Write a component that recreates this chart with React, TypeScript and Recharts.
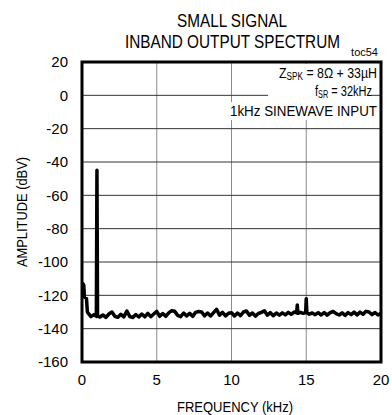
import React from "react";
import {
  LineChart,
  Line,
  XAxis,
  YAxis,
  CartesianGrid,
  ReferenceArea,
} from "recharts";

// spectrum trace
const FREQ_KHZ = [
  0, 0.06, 0.12, 0.16, 0.3, 0.36, 0.44, 0.6, 0.8, 0.96, 1.0, 1.04, 1.2, 1.4,
  1.6, 1.8, 2.0, 2.2, 2.4, 2.6, 2.8, 3.0, 3.2, 3.4, 3.6, 3.8, 4.0, 4.2, 4.4,
  4.6, 4.8, 5.0, 5.2, 5.4, 5.6, 5.8, 6.0, 6.2, 6.4, 6.6, 6.8, 7.0, 7.2, 7.4,
  7.6, 7.8, 8.0, 8.2, 8.4, 8.6, 8.8, 9.0, 9.2, 9.4, 9.6, 9.8, 10.0, 10.2,
  10.4, 10.6, 10.8, 11.0, 11.2, 11.4, 11.6, 11.8, 12.0, 12.2, 12.4, 12.6,
  12.8, 13.0, 13.2, 13.4, 13.6, 13.8, 14.0, 14.2, 14.36, 14.4, 14.44, 14.6,
  14.8, 14.96, 15.0, 15.04, 15.2, 15.4, 15.6, 15.8, 16.0, 16.2, 16.4, 16.6,
  16.8, 17.0, 17.2, 17.4, 17.6, 17.8, 18.0, 18.2, 18.4, 18.6, 18.8, 19.0,
  19.2, 19.4, 19.6, 19.8, 20.0,
];

const AMPLITUDE_DBV = [
  -118, -113, -114, -121, -122, -130, -131.0, -132.8, -131.6, -132.6, -45,
  -132.5, -133.0, -131.8, -133.2, -131.2, -130.0, -132.6, -133.2, -131.4,
  -132.9, -129.4, -132.8, -133.3, -131.5, -133.0, -131.2, -132.9, -130.8,
  -132.8, -131.2, -129.6, -132.6, -130.9, -132.6, -130.5, -129.2, -129.6,
  -132.0, -132.8, -130.6, -132.4, -130.8, -132.6, -130.2, -129.7, -130.0,
  -132.3, -130.6, -132.4, -130.4, -128.4, -131.9, -130.2, -132.3, -130.8,
  -130.4, -132.4, -130.6, -132.2, -130.0, -129.4, -132.0, -130.6, -132.5,
  -130.9, -130.2, -129.3, -131.9, -130.4, -132.2, -130.6, -131.9, -130.5,
  -131.7, -130.2, -131.4, -130.0, -130.6, -125.8, -130.8, -130.2, -130.8,
  -130.4, -122.0, -130.5, -131.3, -130.6, -131.6, -130.4, -131.8, -130.3,
  -131.9, -130.4, -129.7, -131.0, -131.8, -130.5, -132.0, -130.4, -131.6,
  -130.1, -131.7, -130.1, -131.4, -129.6, -130.0, -131.6, -130.3, -131.8,
  -130.8,
];

const X_TICKS = [0, 5, 10, 15, 20];
const Y_TICKS = [20, 0, -20, -40, -60, -80, -100, -120, -140, -160];

const data = FREQ_KHZ.map((f, i) => ({ f, amp: AMPLITUDE_DBV[i] }));

const FONT = "'Liberation Sans Narrow', 'Liberation Sans', Arial, sans-serif";
const tickStyle = { fill: "#000", fontSize: 15, fontFamily: FONT };

export default function App() {
  return (
    <div
      style={{
        position: "absolute",
        left: 0,
        top: 0,
        width: 392,
        height: 415,
        background: "#fff",
      }}
    >
      <LineChart
        width={392}
        height={415}
        data={data}
        margin={{ top: 62, right: 11, left: 12, bottom: 0 }}
      >
        <CartesianGrid
          horizontal={false}
          stroke="#8c8c8c"
          strokeWidth={1}
        />
        <CartesianGrid vertical={false} stroke="#333" strokeWidth={1} />
        <XAxis
          dataKey="f"
          type="number"
          domain={[0, 20]}
          ticks={X_TICKS}
          tick={tickStyle}
          tickLine={false}
          axisLine={false}
          tickSize={6}
          tickMargin={6}
          height={53}
          allowDataOverflow
        />
        <YAxis
          type="number"
          domain={[-160, 20]}
          ticks={Y_TICKS}
          tick={tickStyle}
          tickLine={false}
          axisLine={false}
          tickSize={6}
          tickMargin={8}
          width={70}
          allowDataOverflow
        />
        <Line
          type="linear"
          dataKey="amp"
          stroke="#000"
          strokeWidth={3.5}
          dot={false}
          strokeLinejoin="round"
          isAnimationActive={false}
        />
        <ReferenceArea
          x1={0}
          x2={20}
          y1={-160}
          y2={20}
          fill="none"
          stroke="#000"
          strokeWidth={3}
          ifOverflow="visible"
        />
      </LineChart>

      <svg
        width={392}
        height={415}
        style={{ position: "absolute", left: 0, top: 0, pointerEvents: "none" }}
        fontFamily={FONT}
      >
        <text x={232} y={27} fontSize={19} textAnchor="middle" textLength={110} lengthAdjust="spacingAndGlyphs">
          SMALL SIGNAL
        </text>
        <text x={232.5} y={48} fontSize={19} textAnchor="middle" textLength={215} lengthAdjust="spacingAndGlyphs">
          INBAND OUTPUT SPECTRUM
        </text>
        <text x={378} y={56} fontSize={11} textAnchor="end">
          toc54
        </text>

        <rect x={268} y={64} width={111} height={20} fill="#fff" />
        <rect x={268} y={84} width={103} height={18} fill="#fff" />
        <rect x={229} y={102} width={150} height={18} fill="#fff" />
        <text x={377} y={78} fontSize={15} textAnchor="end" textLength={98} lengthAdjust="spacingAndGlyphs">
          Z<tspan fontSize={10} dy={2}>SPK</tspan>
          <tspan dy={-2}> = 8Ω + 33µH</tspan>
        </text>
        <text x={372} y={96} fontSize={15} textAnchor="end" textLength={57} lengthAdjust="spacingAndGlyphs">
          f<tspan fontSize={10} dy={2}>SR</tspan>
          <tspan dy={-2}> = 32kHz</tspan>
        </text>
        <text x={377} y={116} fontSize={15} textAnchor="end" textLength={147} lengthAdjust="spacingAndGlyphs">
          1kHz SINEWAVE INPUT
        </text>

        <text
          x={0}
          y={0}
          fontSize={15}
          textAnchor="middle"
          textLength={110}
          lengthAdjust="spacingAndGlyphs"
          transform="translate(27 212) rotate(-90)"
        >
          AMPLITUDE (dBV)
        </text>
        <text x={235} y={412} fontSize={15} textAnchor="middle" textLength={116} lengthAdjust="spacingAndGlyphs">
          FREQUENCY (kHz)
        </text>
      </svg>
    </div>
  );
}
